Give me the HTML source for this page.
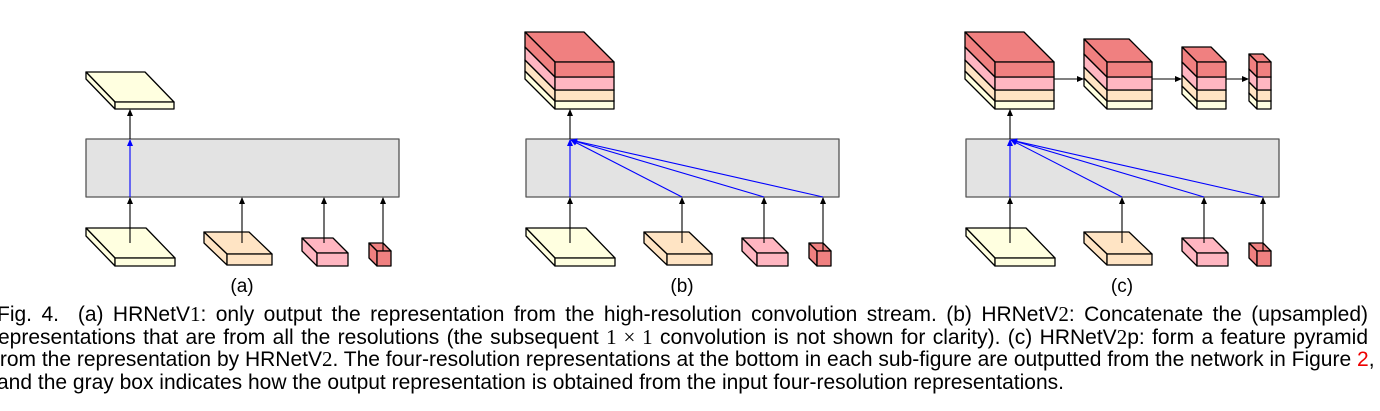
<!DOCTYPE html>
<html><head><meta charset="utf-8"><style>
body{margin:0;width:1380px;height:411px;background:#fff;position:relative;overflow:hidden;font-family:"Liberation Sans",sans-serif;}
svg{position:absolute;left:0;top:0}
.l{position:absolute;left:-6px;width:1374px;font-size:21px;line-height:23px;white-space:nowrap;text-align:justify;text-align-last:justify;color:#000}
.m{font-family:"Liberation Serif",serif}
.lab{position:absolute;font-size:19px;transform:translateX(-50%)}
</style></head><body>
<svg width="1380" height="411" xmlns="http://www.w3.org/2000/svg">
<defs>
<marker id="ak" markerWidth="8" markerHeight="8" refX="6" refY="3" orient="auto" markerUnits="userSpaceOnUse"><path d="M0,0 L7,3 L0,6z" fill="#000"/></marker>
<marker id="ab" markerWidth="8" markerHeight="8" refX="6" refY="3" orient="auto" markerUnits="userSpaceOnUse"><path d="M0,0 L7,3 L0,6z" fill="#00f"/></marker>
</defs>
<g stroke="#000" stroke-width="1.3" stroke-linejoin="round">
<rect x="86" y="139" width="313" height="58" fill="#e3e3e3" stroke="#555"/>
<rect x="526" y="139" width="313" height="58" fill="#e3e3e3" stroke="#555"/>
<rect x="966" y="139" width="313" height="58" fill="#e3e3e3" stroke="#555"/>

<polygon points="86,72 145,72 174,102 115,102" fill="#ffffe0"/>
<polygon points="86,72 115,102 115,109 86,79" fill="#ffffe0"/>
<rect x="115" y="102" width="59" height="7" fill="#ffffe0"/>

<g id="row">
<polygon points="86,228 146,228 175,258 115,258" fill="#ffffe0"/>
<polygon points="86,228 115,258 115,266 86,236" fill="#ffffe0"/>
<rect x="115" y="258" width="60" height="8" fill="#ffffe0"/>
<polygon points="204,232 249,232 272,254 227,254" fill="#ffe4c4"/>
<polygon points="204,232 227,254 227,265 204,243" fill="#ffe4c4"/>
<rect x="227" y="254" width="45" height="11" fill="#ffe4c4"/>
<polygon points="302,238 333,238 348,253 317,253" fill="#ffb6c1"/>
<polygon points="302,238 317,253 317,266 302,251" fill="#ffb6c1"/>
<rect x="317" y="253" width="31" height="13" fill="#ffb6c1"/>
<polygon points="369,243 383,243 391,251 377,251" fill="#f08080"/>
<polygon points="369,243 377,251 377,266 369,258" fill="#f08080"/>
<rect x="377" y="251" width="14" height="15" fill="#f08080"/>
</g>
<use href="#row" x="440"/>
<use href="#row" x="880"/>

<g id="big">
<polygon points="965,71 1024,71 1054,101 995,101" fill="#ffffe0"/><polygon points="965,71 995,101 995,109 965,79" fill="#ffffe0"/><rect x="995" y="101" width="59" height="8" fill="#ffffe0"/>
<polygon points="965,60 1024,60 1054,90 995,90" fill="#ffe4c4"/><polygon points="965,60 995,90 995,101 965,71" fill="#ffe4c4"/><rect x="995" y="90" width="59" height="11" fill="#ffe4c4"/>
<polygon points="965,47 1024,47 1054,77 995,77" fill="#ffb6c1"/><polygon points="965,47 995,77 995,90 965,60" fill="#ffb6c1"/><rect x="995" y="77" width="59" height="13" fill="#ffb6c1"/>
<polygon points="965,32 1024,32 1054,62 995,62" fill="#f08080"/><polygon points="965,32 995,62 995,77 965,47" fill="#f08080"/><rect x="995" y="62" width="59" height="15" fill="#f08080"/>
</g>
<use href="#big" x="-440"/>
<polygon points="1084,78 1129,78 1152,101 1107,101" fill="#ffffe0"/><polygon points="1084,78 1107,101 1107,109 1084,86" fill="#ffffe0"/><rect x="1107" y="101" width="45" height="8" fill="#ffffe0"/>
<polygon points="1084,67 1129,67 1152,90 1107,90" fill="#ffe4c4"/><polygon points="1084,67 1107,90 1107,101 1084,78" fill="#ffe4c4"/><rect x="1107" y="90" width="45" height="11" fill="#ffe4c4"/>
<polygon points="1084,54 1129,54 1152,77 1107,77" fill="#ffb6c1"/><polygon points="1084,54 1107,77 1107,90 1084,67" fill="#ffb6c1"/><rect x="1107" y="77" width="45" height="13" fill="#ffb6c1"/>
<polygon points="1084,39 1129,39 1152,62 1107,62" fill="#f08080"/><polygon points="1084,39 1107,62 1107,77 1084,54" fill="#f08080"/><rect x="1107" y="62" width="45" height="15" fill="#f08080"/>
<polygon points="1182,86 1211,86 1226,101 1197,101" fill="#ffffe0"/><polygon points="1182,86 1197,101 1197,109 1182,94" fill="#ffffe0"/><rect x="1197" y="101" width="29" height="8" fill="#ffffe0"/>
<polygon points="1182,75 1211,75 1226,90 1197,90" fill="#ffe4c4"/><polygon points="1182,75 1197,90 1197,101 1182,86" fill="#ffe4c4"/><rect x="1197" y="90" width="29" height="11" fill="#ffe4c4"/>
<polygon points="1182,62 1211,62 1226,77 1197,77" fill="#ffb6c1"/><polygon points="1182,62 1197,77 1197,90 1182,75" fill="#ffb6c1"/><rect x="1197" y="77" width="29" height="13" fill="#ffb6c1"/>
<polygon points="1182,47 1211,47 1226,62 1197,62" fill="#f08080"/><polygon points="1182,47 1197,62 1197,77 1182,62" fill="#f08080"/><rect x="1197" y="62" width="29" height="15" fill="#f08080"/>
<polygon points="1249,93 1263,93 1271,101 1257,101" fill="#ffffe0"/><polygon points="1249,93 1257,101 1257,109 1249,101" fill="#ffffe0"/><rect x="1257" y="101" width="14" height="8" fill="#ffffe0"/>
<polygon points="1249,82 1263,82 1271,90 1257,90" fill="#ffe4c4"/><polygon points="1249,82 1257,90 1257,101 1249,93" fill="#ffe4c4"/><rect x="1257" y="90" width="14" height="11" fill="#ffe4c4"/>
<polygon points="1249,69 1263,69 1271,77 1257,77" fill="#ffb6c1"/><polygon points="1249,69 1257,77 1257,90 1249,82" fill="#ffb6c1"/><rect x="1257" y="77" width="14" height="13" fill="#ffb6c1"/>
<polygon points="1249,54 1263,54 1271,62 1257,62" fill="#f08080"/><polygon points="1249,54 1257,62 1257,77 1249,69" fill="#f08080"/><rect x="1257" y="62" width="14" height="15" fill="#f08080"/>
</g>

<g stroke="#000" stroke-width="1.1" fill="none" marker-end="url(#ak)">
<path d="M130,243 V198"/><path d="M242,243 V198"/><path d="M324,243 V198"/><path d="M383,251 V198"/>
<path d="M570,243 V198"/><path d="M682,243 V198"/><path d="M764,243 V198"/><path d="M823,251 V198"/>
<path d="M1010,243 V198"/><path d="M1122,243 V198"/><path d="M1204,243 V198"/><path d="M1263,251 V198"/>
<path d="M130,139 V110"/><path d="M570,139 V110"/><path d="M1010,139 V110"/>
<path d="M1054,79 H1083"/><path d="M1152,79 H1181"/><path d="M1226,79 H1248"/>
</g>
<g stroke="#00f" stroke-width="1.1" fill="none" marker-end="url(#ab)">
<path d="M130,197 V140"/>
<path d="M570,197 V140"/><path d="M682,197 L571,140"/><path d="M764,197 L571,140"/><path d="M823,197 L571,140"/>
<path d="M1010,197 V140"/><path d="M1122,197 L1011,140"/><path d="M1204,197 L1011,140"/><path d="M1263,197 L1011,140"/>
</g>
</svg>
<div class="lab" style="left:242px;top:276px">(a)</div>
<div class="lab" style="left:682px;top:276px">(b)</div>
<div class="lab" style="left:1122px;top:276px">(c)</div>
<div class="l" style="top:303px;left:-3px;width:1371px">Fig. 4.&nbsp; (a) HRNetV<span class="m">1</span>: only output the representation from the high-resolution convolution stream. (b) HRNetV<span class="m">2</span>: Concatenate the (upsampled)</div>
<div class="l" style="top:326px;left:-9px;width:1377px">representations that are from all the resolutions (the subsequent <span class="m">1 × 1</span> convolution is not shown for clarity). (c) HRNetV<span class="m">2</span>p: form a feature pyramid</div>
<div class="l" style="top:348px;left:-6px;width:1374px">from the representation by HRNetV<span class="m">2</span>. The four-resolution representations at the bottom in each sub-figure are outputted from the network in Figure <span style="color:#e00">2</span>,</div>
<div class="l" style="top:371px;left:-3px;text-align:left;text-align-last:left">and the gray box indicates how the output representation is obtained from the input four-resolution representations.</div>
</body></html>
